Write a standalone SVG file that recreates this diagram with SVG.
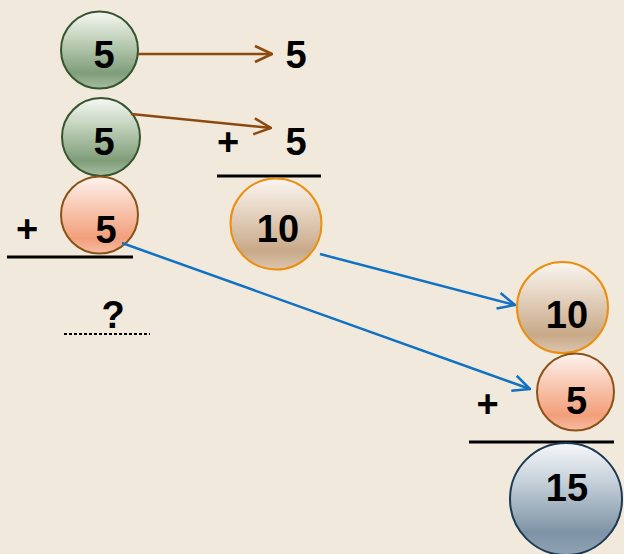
<svg xmlns="http://www.w3.org/2000/svg" width="624" height="554" viewBox="0 0 624 554">
<defs>
<linearGradient id="gGreen" x1="0" y1="0" x2="0" y2="1">
<stop offset="0" stop-color="#f6f8f4"/><stop offset="0.35" stop-color="#c3d3bd"/><stop offset="0.8" stop-color="#7f9d79"/><stop offset="1" stop-color="#a6bda1"/>
</linearGradient>
<linearGradient id="gPink" x1="0" y1="0" x2="0" y2="1">
<stop offset="0" stop-color="#fdf4f0"/><stop offset="0.35" stop-color="#f9cdb9"/><stop offset="0.8" stop-color="#f29f7b"/><stop offset="1" stop-color="#f6bca3"/>
</linearGradient>
<linearGradient id="gTan" x1="0" y1="0" x2="0" y2="1">
<stop offset="0" stop-color="#faf6f1"/><stop offset="0.35" stop-color="#e6d5c3"/><stop offset="0.8" stop-color="#c8a988"/><stop offset="1" stop-color="#dcc6af"/>
</linearGradient>
<linearGradient id="gBlue" x1="0" y1="0" x2="0" y2="1">
<stop offset="0" stop-color="#f6f8fa"/><stop offset="0.35" stop-color="#c5d0d9"/><stop offset="0.8" stop-color="#7e93a5"/><stop offset="1" stop-color="#8fa3b4"/>
</linearGradient>
<marker id="arrBrown" viewBox="0 0 20 20" refX="19" refY="10" markerWidth="20" markerHeight="20" markerUnits="userSpaceOnUse" orient="auto">
<path d="M2,2 L19,10 L2,18" fill="none" stroke="#8b4a0f" stroke-width="2.5"/>
</marker>
<marker id="arrBlue" viewBox="0 0 20 20" refX="19" refY="10" markerWidth="20" markerHeight="20" markerUnits="userSpaceOnUse" orient="auto">
<path d="M2,2 L19,10 L2,18" fill="none" stroke="#1172c4" stroke-width="2.5"/>
</marker>
</defs>
<style>
.t{font-family:"Liberation Sans",Arial,sans-serif;font-weight:bold;font-size:38px;fill:#000;text-anchor:middle}
.green{fill:url(#gGreen);stroke:#35552f;stroke-width:2}
.pink{fill:url(#gPink);stroke:#8a5216;stroke-width:2}
.tan{fill:url(#gTan);stroke:#ea8f10;stroke-width:2}
.blue{fill:url(#gBlue);stroke:#1c3a52;stroke-width:2}
.bar{stroke:#000;stroke-width:3}
.brown{stroke:#8b4a0f;stroke-width:2.5;fill:none;marker-end:url(#arrBrown)}
.bl{stroke:#1172c4;stroke-width:2.5;fill:none;marker-end:url(#arrBlue)}
</style>
<rect width="624" height="554" fill="#f2e9dd"/>
<g id="n1"><circle class="green" cx="99.5" cy="50" r="38.5"/><text class="t" x="104" y="68">5</text></g>
<g id="n2"><circle class="green" cx="101" cy="137" r="39"/><text class="t" x="104" y="155">5</text></g>
<g id="n3"><circle class="pink" cx="99.5" cy="215" r="38.5"/><text class="t" x="106" y="243">5</text></g>
<g id="plus1"><text class="t" x="27" y="242">+</text><line class="bar" x1="7" y1="257" x2="133" y2="257"/></g>
<g id="q"><text class="t" x="113" y="328">?</text><line x1="64" y1="334" x2="150" y2="334" stroke="#000" stroke-width="2" stroke-dasharray="3,2"/></g>
<g id="r1"><text class="t" x="296" y="68">5</text></g>
<g id="r2"><text class="t" x="296" y="155">5</text><text class="t" x="228" y="155">+</text><line class="bar" x1="217" y1="176" x2="321" y2="176"/></g>
<g id="n10a"><circle class="tan" cx="276" cy="224" r="45.5"/><text class="t" x="278" y="242">10</text></g>
<g id="n10b"><circle class="tan" cx="562.5" cy="307.5" r="45.5"/><text class="t" x="567" y="328">10</text></g>
<g id="n5b"><circle class="pink" cx="575.5" cy="392" r="38.5"/><text class="t" x="576.5" y="414">5</text></g>
<g id="plus3"><text class="t" x="487.5" y="417">+</text><line class="bar" x1="469" y1="442" x2="614" y2="442"/></g>
<g id="n15"><circle class="blue" cx="566" cy="499" r="56"/><text class="t" x="567" y="501">15</text></g>
<g id="connectors">
<line class="brown" x1="138" y1="54" x2="272" y2="54"/>
<line class="brown" x1="131" y1="114" x2="271" y2="128"/>
<line class="bl" x1="320" y1="254" x2="515" y2="305"/>
<line class="bl" x1="122" y1="243" x2="530" y2="389"/>
</g>
</svg>
